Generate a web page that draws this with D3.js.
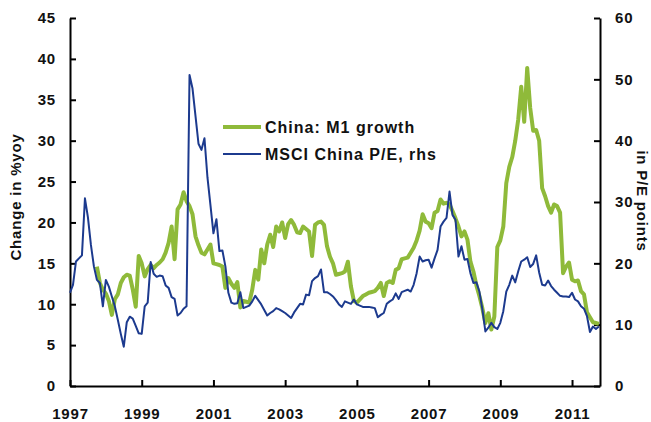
<!DOCTYPE html>
<html><head><meta charset="utf-8">
<script src="https://cdn.jsdelivr.net/npm/d3@7/dist/d3.min.js"></script>
<style>
body{margin:0;background:#fff}
svg{display:block}
text{font-family:"Liberation Sans",Arial,Helvetica,sans-serif;font-weight:bold;fill:#111}
</style>
</head><body>
<svg id="chart" width="651" height="422"></svg>
<script>
// ---- data (monthly, month index 0 = Jan 1997) ----
const startYear = 1997;
const m1StartMonth = 9;
const m1Growth = [
  14.6,12.6,11.8,
  11.3,10.4,8.7,10.6,11.2,12.6,13.3,13.6,13.5,11.8,9.7,15.9,
  15.0,13.4,14.3,14.8,14.4,14.8,15.1,15.5,16.3,17.5,19.5,15.5,
  21.6,22.2,23.7,22.6,22.0,21.0,18.3,17.2,16.3,16.1,16.7,17.3,
  15.0,14.9,14.8,14.6,12.0,13.2,12.5,12.0,12.7,9.6,10.4,10.3,
  10.2,11.8,14.2,13.0,16.7,15.0,17.3,18.5,17.0,19.5,18.9,20.0,
  18.1,19.8,20.3,19.7,18.8,18.7,19.5,19.2,18.9,15.9,19.7,20.0,
  20.1,19.7,17.1,15.8,15.0,13.6,13.7,13.8,14.0,15.2,12.2,10.4,
  10.2,10.6,11.0,11.2,11.4,11.5,11.6,12.0,12.6,11.0,12.6,12.8,
  12.6,14.2,14.4,15.5,15.6,15.7,16.3,16.9,17.8,19.0,21.0,20.1,
  19.9,19.3,21.2,21.4,22.8,22.3,22.4,22.2,21.4,20.5,19.5,18.3,
  18.9,17.9,15.2,14.0,12.3,11.0,9.5,7.7,8.9,6.9,8.5,17.0,
  17.8,19.5,24.8,26.8,28.0,30.0,32.6,36.6,32.3,38.9,34.0,31.2,
  31.3,30.0,24.2,23.2,22.0,21.2,22.2,22.0,21.2,13.8,14.6,15.1,
  13.0,12.8,12.9,11.6,11.2,9.0,8.4,7.8,7.7,7.6
];
const peStartMonth = 0;
const msciPE = [
  15.2,16.5,20.3,20.8,21.3,30.6,27.5,23.0,19.5,17.3,16.8,13.0,
  17.3,16.2,14.6,13.0,10.8,8.5,6.4,10.4,11.3,11.0,9.8,8.6,
  8.5,13.0,13.6,20.2,18.3,17.8,18.0,17.9,16.4,16.0,14.5,14.2,
  11.5,11.9,12.6,13.0,50.7,48.5,44.0,39.5,38.5,40.4,34.0,29.5,
  24.9,27.2,22.0,22.1,19.5,15.2,13.6,13.4,13.5,15.3,12.7,12.9,
  13.1,13.8,14.7,14.0,13.3,12.4,11.5,11.9,12.2,12.7,12.5,12.2,
  11.9,11.5,11.1,12.0,12.7,13.4,13.3,14.9,14.8,17.1,17.6,17.9,
  19.0,15.3,15.3,15.0,14.6,14.0,13.3,12.9,13.8,13.6,13.4,14.1,
  13.3,13.1,12.9,12.9,12.9,12.8,12.7,11.2,11.6,11.9,13.4,13.8,
  14.1,15.1,14.2,15.3,15.5,15.7,15.4,16.5,18.4,21.1,20.3,20.5,
  20.6,19.3,20.8,22.2,26.0,26.8,27.4,31.7,27.9,27.1,21.1,22.8,
  20.6,20.7,18.4,16.8,16.9,15.4,12.5,8.9,9.5,10.3,9.6,9.3,
  10.3,12.2,15.4,16.5,18.0,16.9,18.7,20.3,20.6,21.0,19.4,19.9,
  21.3,18.5,16.5,16.4,17.2,16.3,15.7,15.2,14.7,14.6,14.6,14.5,
  15.2,14.1,13.8,13.0,12.6,11.4,8.8,9.7,9.3,9.7
];
const leftTicks = [0,5,10,15,20,25,30,35,40,45];
const rightTicks = [0,10,20,30,40,50,60];
const yearTicks = [1997,1999,2001,2003,2005,2007,2009,2011];
const seriesNames = ["China: M1 growth","MSCI China P/E, rhs"];
const leftTitle = "Change in %yoy";
const rightTitle = "in P/E points";

// ---- layout ----
const svg = d3.select("#chart");
const x = d3.scaleLinear().domain([1997, 2011.78]).range([70, 600]);
const yL = d3.scaleLinear().domain([0, 45]).range([386, 18]);
const yR = d3.scaleLinear().domain([0, 60]).range([386, 18]);
const green = "#8fba3a", blue = "#1c3a8e";

const toPts = (arr, start) => arr.map((v, i) => ({t: startYear + (start + i) / 12, v}));
const m1Pts = toPts(m1Growth, m1StartMonth);
const pePts = toPts(msciPE, peStartMonth);

const fs = "15px", ls = "0.8px";

// axes
const gL = svg.append("g").attr("transform","translate(70,0)")
  .call(d3.axisLeft(yL).tickValues(leftTicks).tickSizeInner(-6).tickSizeOuter(0).tickPadding(14));
const gR = svg.append("g").attr("transform","translate(600,0)")
  .call(d3.axisRight(yR).tickValues(rightTicks).tickSizeInner(-6).tickSizeOuter(0).tickPadding(15));
const gX = svg.append("g").attr("transform","translate(0,386)")
  .call(d3.axisBottom(x).tickValues(yearTicks).tickFormat(d3.format("d")).tickSizeInner(-6).tickSizeOuter(0).tickPadding(22));
[gL,gR,gX].forEach(g=>{
  g.selectAll("path.domain").attr("stroke","#000").attr("stroke-width",2);
  g.selectAll(".tick line").attr("stroke","#000").attr("stroke-width",2);
  g.selectAll("text").style("font-size",fs).style("letter-spacing",ls)
   .style("font-family","'Liberation Sans',Arial,sans-serif").style("font-weight","bold").attr("fill","#111");
});

// lines
const lineL = d3.line().x(d=>x(d.t)).y(d=>yL(d.v));
const lineR = d3.line().x(d=>x(d.t)).y(d=>yR(d.v));
svg.append("path").datum(m1Pts).attr("d",lineL).attr("fill","none")
  .attr("stroke",green).attr("stroke-width",4).attr("stroke-linejoin","round");
svg.append("path").datum(pePts).attr("d",lineR).attr("fill","none")
  .attr("stroke",blue).attr("stroke-width",2).attr("stroke-linejoin","round");

// axis titles
svg.append("text").attr("transform","translate(21,197) rotate(-90)")
  .attr("text-anchor","middle").style("font-size",fs).style("letter-spacing",ls).text(leftTitle);
svg.append("text").attr("transform","translate(637,201) rotate(90)")
  .attr("text-anchor","middle").style("font-size",fs).style("letter-spacing",ls).text(rightTitle);

// legend
const legend = svg.append("g");
const legItems = [{name: seriesNames[0], color: green, w: 4, y: 127},
                  {name: seriesNames[1], color: blue, w: 2, y: 154}];
legItems.forEach(it=>{
  legend.append("line").attr("x1",223).attr("x2",261).attr("y1",it.y).attr("y2",it.y)
    .attr("stroke",it.color).attr("stroke-width",it.w);
  legend.append("text").attr("x",265).attr("y",it.y).attr("dy","0.36em")
    .style("font-size","16px").style("letter-spacing","1px").text(it.name);
});
</script>
</body></html>
